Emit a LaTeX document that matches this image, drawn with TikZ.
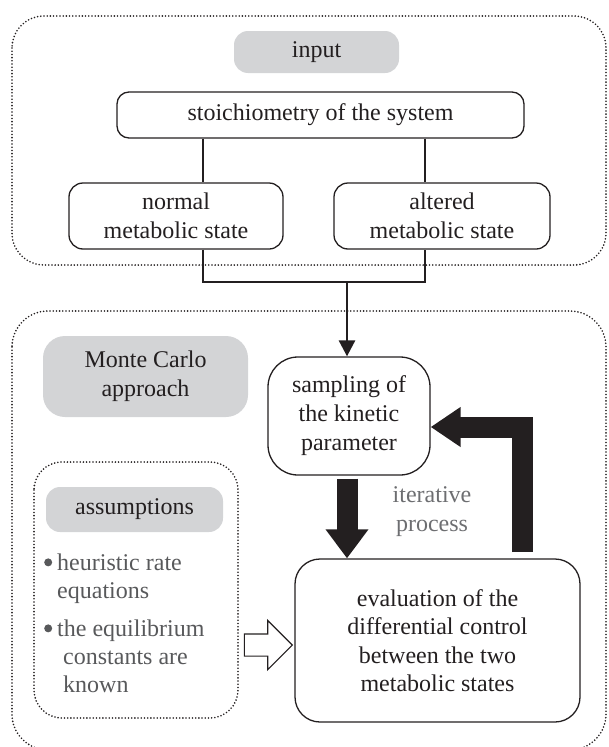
\documentclass[tikz,border=0pt]{standalone}
\usepackage{fontspec}
\setmainfont{Liberation Serif}
\usetikzlibrary{arrows.meta,shapes.arrows,calc}
\definecolor{ink}{HTML}{231F20}
\definecolor{boxgray}{HTML}{D3D4D6}
\definecolor{txtgray}{HTML}{58595B}
\definecolor{itgray}{HTML}{6D6E71}
\newcommand\bulmark{\makebox[13pt][l]{\raisebox{4.5pt}{\tikz[x=1cm,y=1cm]\fill[txtgray] (0,0) circle (4pt);}}}
\begin{document}
\begin{tikzpicture}[x=1pt,y=-1pt,
  font=\fontsize{24}{29}\selectfont,
  wbox/.style={draw=ink, line width=1.3pt, rounded corners=#1, align=center, inner sep=0pt, text=ink},
  wbox/.default=12pt,
  gbox/.style={fill=boxgray, rounded corners=#1, align=center, inner sep=0pt, text=ink},
  gbox/.default=14pt,
  dotbox/.style={draw=ink, line width=1.8pt, line cap=round, dash pattern=on 0pt off 3.2pt, rounded corners=#1},
  conn/.style={draw=ink, line width=2.8pt},
  thick arrow/.style={draw=ink, line width=21pt}
]
\useasboundingbox (0,0) rectangle (608,747);
\clip (0,0) rectangle (608,747);

% dotted containers
\draw[dotbox=32pt] (12,16) rectangle (606,265);
\draw[dotbox=36pt] (12,311) rectangle (606,750);
\draw[dotbox=28pt] (34,462) rectangle (238,718);

% nodes
\node[gbox, minimum width=165pt, minimum height=42pt] (input) at (316.5,52) {input};
\node[wbox=12pt, minimum width=407pt, minimum height=46pt] (stoich) at (320.5,115) {stoichiometry of the system};
\node[wbox=14pt, minimum width=214pt, minimum height=66pt] (normal) at (176,216) {normal\\metabolic state};
\node[wbox=14pt, minimum width=216pt, minimum height=66pt] (altered) at (442,216) {altered\\metabolic state};
\node[gbox=22pt, minimum width=205pt, minimum height=81pt] (mc) at (145.5,376.5) {Monte Carlo\\approach};
\node[wbox=30pt, minimum width=162pt, minimum height=118pt] (sampling) at (349,416) {sampling of\\the kinetic\\parameter};
\node[wbox=25pt, minimum width=285pt, minimum height=163pt, font=\fontsize{24}{28.5}\selectfont] (eval) at (437.5,640.5) {evaluation of the\\differential control\\between the two\\metabolic states};
\node[gbox=14pt, minimum width=177pt, minimum height=45pt] (assum) at (134.5,509.5) {assumptions};
\node[anchor=north west, inner sep=0pt, text=txtgray, align=left, font=\fontsize{24}{28}\selectfont] (items) at (44,554)
  {\bulmark heuristic rate\\\hspace*{13pt}equations\\[10pt]\bulmark the equilibrium\\\hspace*{19pt}constants are\\\hspace*{19pt}known};
\node[text=itgray, align=center, inner sep=0pt, font=\fontsize{24}{29}\selectfont] (iter) at (432,512) {iterative\\process};

% junction coordinates
\coordinate (jl) at (203,282);
\coordinate (jr) at (425,282);
\coordinate (jm) at (347,282);
\coordinate (fb) at (522,552);

% connectors
\draw[conn] (stoich.south -| jl) -- (normal.north -| jl);
\draw[conn] (stoich.south -| jr) -- (altered.north -| jr);
\draw[conn] (normal.south -| jl) -- (jl) -- (jr) -- (altered.south -| jr);
\draw[conn, -{Triangle[width=16pt,length=16pt]}] (jm) -- (jm |- sampling.north);

% thick arrows
\draw[thick arrow, -{Triangle[width=41pt,length=29pt]}] ($(jm |- sampling.south)+(0,3)$) -- (jm |- eval.north);
\draw[thick arrow, -{Triangle[width=38pt,length=30pt]}] (fb) |- ([yshift=-11pt]sampling.east);

% hollow arrow
\node[single arrow, draw=ink, fill=white, line width=1.2pt, minimum height=48pt, single arrow head extend=13.5pt, inner sep=10.5pt, outer sep=0pt, anchor=tip] (hollow) at ($(eval.west)+(-2,4.5)$) {};
\end{tikzpicture}
\end{document}
